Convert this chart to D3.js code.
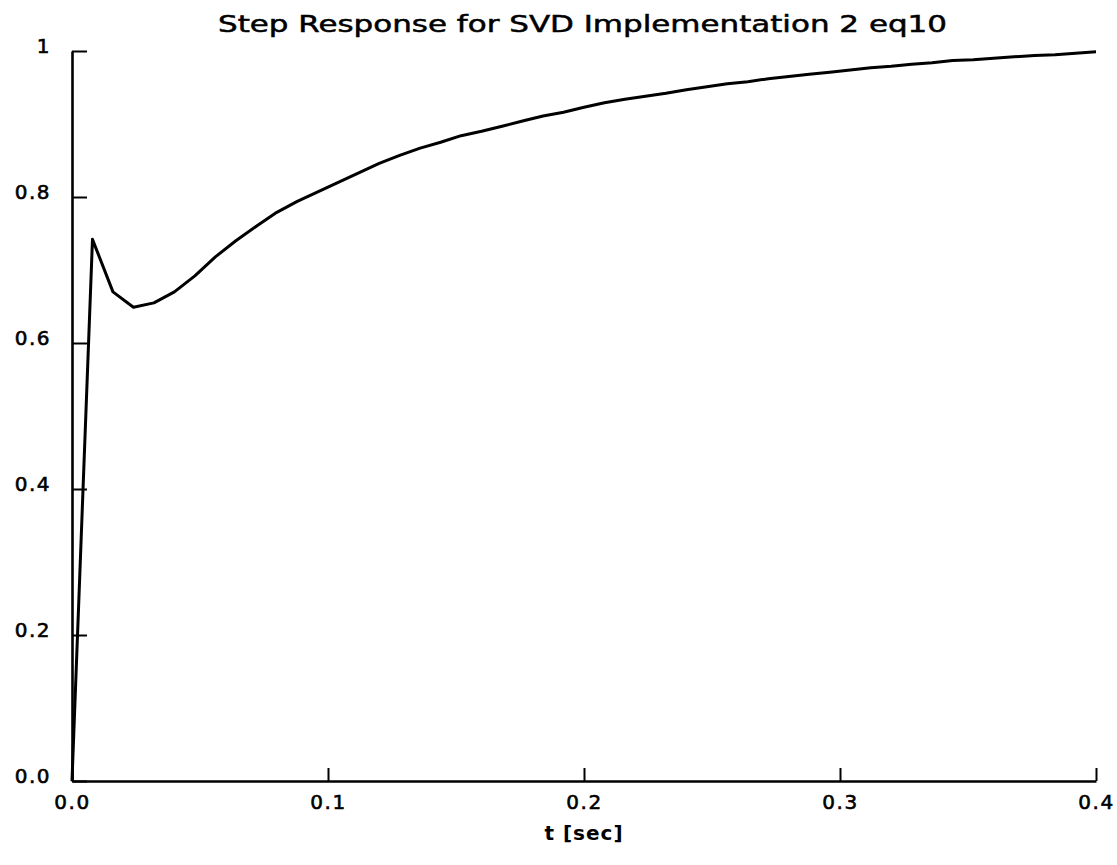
<!DOCTYPE html>
<html>
<head>
<meta charset="utf-8">
<script src="https://cdn.jsdelivr.net/npm/d3@7"></script>
<style>
  html, body { margin: 0; padding: 0; background: #fff; }
  svg { display: block; }
  text { font-family: "DejaVu Sans", "Liberation Sans", sans-serif; fill: #000; }
</style>
</head>
<body>
<svg id="chart" width="1117" height="865"></svg>
<script>
// Step response samples (time in seconds, response amplitude)
const timeSec = [
  0.000, 0.008, 0.016, 0.024, 0.032, 0.040, 0.048, 0.056, 0.064, 0.072,
  0.080, 0.088, 0.096, 0.104, 0.112, 0.120, 0.128, 0.136, 0.144, 0.152,
  0.160, 0.168, 0.176, 0.184, 0.192, 0.200, 0.208, 0.216, 0.224, 0.232,
  0.240, 0.248, 0.256, 0.264, 0.272, 0.280, 0.288, 0.296, 0.304, 0.312,
  0.320, 0.328, 0.336, 0.344, 0.352, 0.360, 0.368, 0.376, 0.384, 0.392,
  0.400
];
const response = [
  0.000, 0.742, 0.670, 0.649, 0.655, 0.670, 0.692, 0.718, 0.740, 0.760,
  0.779, 0.794, 0.807, 0.820, 0.833, 0.846, 0.857, 0.867, 0.875, 0.884,
  0.890, 0.897, 0.904, 0.911, 0.916, 0.923, 0.929, 0.934, 0.938, 0.942,
  0.947, 0.951, 0.955, 0.958, 0.962, 0.965, 0.968, 0.971, 0.974, 0.977,
  0.979, 0.982, 0.984, 0.987, 0.988, 0.990, 0.992, 0.994, 0.995, 0.997,
  0.999
];

const xTicks = [0.0, 0.1, 0.2, 0.3, 0.4];
const xTickLabels = ["0.0", "0.1", "0.2", "0.3", "0.4"];
const yTicks = [0.0, 0.2, 0.4, 0.6, 0.8, 1.0];
const yTickLabels = ["0.0", "0.2", "0.4", "0.6", "0.8", "1"];

const titleText = "Step Response for SVD Implementation 2 eq10";
const xAxisTitle = "t [sec]";

const svg = d3.select("#chart");

const plot = { left: 72, right: 1096, top: 51, bottom: 781 };

const x = d3.scaleLinear().domain([0, 0.4]).range([plot.left, plot.right]);
const y = d3.scaleLinear().domain([0, 1]).range([plot.bottom, plot.top]);

// Title
svg.append("text")
  .attr("x", 218)
  .attr("y", 32)
  .attr("font-size", 23)
  .attr("stroke", "#000")
  .attr("stroke-width", 0.5)
  .attr("textLength", 729)
  .attr("lengthAdjust", "spacingAndGlyphs")
  .text(titleText);

// X axis with inward ticks
const xAxis = d3.axisBottom(x)
  .tickValues(xTicks)
  .tickFormat((d, i) => xTickLabels[i])
  .tickSizeInner(-13)
  .tickSizeOuter(0)
  .tickPadding(14);

const gx = svg.append("g")
  .attr("transform", `translate(0,${plot.bottom})`)
  .call(xAxis);
gx.attr("font-size", null).attr("font-family", null);
gx.select(".domain").attr("stroke", "#000").attr("stroke-width", 2.6);
gx.selectAll(".tick line").attr("stroke", "#000").attr("stroke-width", 2);
gx.selectAll(".tick text")
  .style("font-size", "20px")
  .style("letter-spacing", "1.5px")
  .attr("stroke", "#000")
  .attr("stroke-width", 0.6)
  .attr("fill", "#000");

// Y axis with inward ticks
const yAxis = d3.axisLeft(y)
  .tickValues(yTicks)
  .tickFormat((d, i) => yTickLabels[i])
  .tickSizeInner(-15)
  .tickSizeOuter(0)
  .tickPadding(21);

const gy = svg.append("g")
  .attr("transform", `translate(${plot.left},0)`)
  .call(yAxis);
gy.attr("font-size", null).attr("font-family", null);
gy.select(".domain").attr("stroke", "#000").attr("stroke-width", 2.6);
gy.selectAll(".tick line").attr("stroke", "#000").attr("stroke-width", 2);
gy.selectAll(".tick text")
  .style("font-size", "20px")
  .style("letter-spacing", "1.5px")
  .attr("stroke", "#000")
  .attr("stroke-width", 0.6)
  .attr("dy", "0.05em")
  .attr("fill", "#000");

// X axis title
svg.append("text")
  .attr("x", x(0.2))
  .attr("y", 840)
  .attr("text-anchor", "middle")
  .attr("font-size", 20)
  .attr("font-weight", "bold")
  .attr("letter-spacing", 1)
  .text(xAxisTitle);

// Response curve
const pts = timeSec.map((t, i) => [t, response[i]]);
const line = d3.line()
  .x(d => x(d[0]))
  .y(d => y(d[1]));

svg.append("path")
  .datum(pts)
  .attr("fill", "none")
  .attr("stroke", "#000")
  .attr("stroke-width", 3)
  .attr("stroke-linejoin", "round")
  .attr("d", line);
</script>
</body>
</html>
